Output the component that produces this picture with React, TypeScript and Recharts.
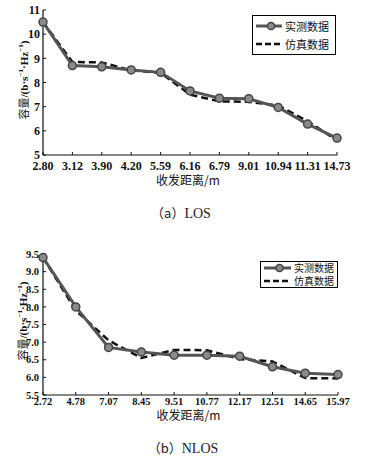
import React from 'react';
import { LineChart, Line, XAxis, YAxis, Legend } from 'recharts';

// ---- (a) LOS ----
const losDistances = ['2.80', '3.12', '3.90', '4.20', '5.59', '6.16', '6.79', '9.01', '10.94', '11.31', '14.73'];
const losMeasured = [10.5, 8.7, 8.65, 8.52, 8.42, 7.65, 7.35, 7.33, 6.97, 6.28, 5.7];
const losSimulated = [10.5, 8.85, 8.83, 8.5, 8.4, 7.5, 7.22, 7.2, 7.05, 6.4, 5.6];
const losYTicks = [5, 6, 7, 8, 9, 10, 11];

// ---- (b) NLOS ----
const nlosDistances = ['2.72', '4.78', '7.07', '8.45', '9.51', '10.77', '12.17', '12.51', '14.65', '15.97'];
const nlosMeasured = [9.4, 8.0, 6.85, 6.72, 6.63, 6.63, 6.6, 6.3, 6.12, 6.08];
const nlosSimulated = [9.4, 7.9, 7.05, 6.55, 6.78, 6.77, 6.52, 6.45, 5.98, 5.97];
const nlosYTicks = [5.5, 6.0, 6.5, 7.0, 7.5, 8.0, 8.5, 9.0, 9.5];

const measuredName = '实测数据';
const simulatedName = '仿真数据';
const xTitle = '收发距离/m';

const SERIF = '"Liberation Serif", "DejaVu Serif", serif';
const CJK = '"Noto Sans CJK SC", sans-serif';

const losData = losDistances.map((d, i) => ({ d, m: losMeasured[i], s: losSimulated[i] }));
const nlosData = nlosDistances.map((d, i) => ({ d, m: nlosMeasured[i], s: nlosSimulated[i] }));

const makeYLabel = (cx: number, cy: number, fs: number) => () => (
  <text
    x={cx}
    y={cy}
    transform={`rotate(-90, ${cx}, ${cy})`}
    textAnchor="middle"
    dominantBaseline="middle"
    fontSize={fs}
    fontFamily={SERIF}
    fontWeight="bold"
    fill="#111"
  >
    <tspan fontFamily={CJK} fontWeight="normal">容量</tspan>
    <tspan>/(b·s</tspan>
    <tspan dy={-4} fontSize={fs * 0.65}>−1</tspan>
    <tspan dy={4}>·Hz</tspan>
    <tspan dy={-4} fontSize={fs * 0.65}>−1</tspan>
    <tspan dy={4}>)</tspan>
  </text>
);

const makeXLabel = (fs: number, dyTop: number) => (props: any) => {
  const vb = props.viewBox || {};
  return (
    <text
      x={vb.x + vb.width / 2 - 2}
      y={vb.y + dyTop}
      textAnchor="middle"
      dominantBaseline="middle"
      fontSize={fs}
      fontFamily={CJK}
      fill="#111"
    >
      {xTitle}
    </text>
  );
};

const makeLegend = (opts: { iconW: number; rowH: number; fs: number; pad: string }) => (props: any) => {
  const payload = (props.payload || []) as any[];
  const order = [measuredName, simulatedName];
  const items = order
    .map((n) => payload.find((p) => p.value === n))
    .filter(Boolean) as any[];
  return (
    <div
      style={{
        border: '1.2px solid #000',
        background: '#fff',
        padding: opts.pad,
        fontFamily: CJK,
        fontSize: opts.fs,
        color: '#111',
        boxSizing: 'border-box',
      }}
    >
      {items.map((it) => (
        <div key={it.value} style={{ display: 'flex', alignItems: 'center', height: opts.rowH }}>
          <svg width={opts.iconW} height={10} style={{ display: 'block' }}>
            {it.value === measuredName ? (
              <>
                <line x1={0} y1={5} x2={opts.iconW} y2={5} stroke="#555" strokeWidth={3} />
                <circle cx={opts.iconW / 2 + 2} cy={5} r={3.6} fill="#8a8a8a" stroke="#444" strokeWidth={1.5} />
              </>
            ) : (
              <line x1={0} y1={5} x2={opts.iconW} y2={5} stroke="#111" strokeWidth={2.5} strokeDasharray="6 3" />
            )}
          </svg>
          <span
            style={{
              marginLeft: 3,
              whiteSpace: 'nowrap',
              display: 'inline-block',
              height: opts.rowH,
              lineHeight: `${opts.rowH}px`,
              overflow: 'visible',
            }}
          >
            {it.value}
          </span>
        </div>
      ))}
    </div>
  );
};

const tickStyleTop = { fontSize: 12, fontFamily: SERIF, fontWeight: 'bold' as const, fill: '#111' };
const tickStyleBottom = { fontSize: 10.5, fontFamily: SERIF, fontWeight: 'bold' as const, fill: '#111' };

export default function App() {
  return (
    <div style={{ position: 'absolute', left: 0, top: 0, width: 370, height: 458, background: '#fff' }}>
      {/* (a) LOS */}
      <div style={{ position: 'absolute', left: 0, top: 0 }}>
        <LineChart width={370} height={200} data={losData} margin={{ top: 10, right: 33, left: 0, bottom: 0 }}>
          <XAxis
            dataKey="d"
            height={45}
            interval={0}
            tick={tickStyleTop}
            tickSize={-3}
            tickMargin={9}
            stroke="#111"
            axisLine={{ stroke: '#111', strokeWidth: 1.2 }}
            tickLine={{ stroke: '#111' }}
            label={{ content: makeXLabel(12, 27) }}
          />
          <XAxis xAxisId="top" dataKey="d" orientation="top" height={0} tick={false} tickSize={-3} axisLine={{ stroke: '#111', strokeWidth: 1.2 }} tickLine={{ stroke: '#111' }} />
          <YAxis
            width={43}
            domain={[5, 11]}
            ticks={losYTicks}
            interval={0}
            tick={tickStyleTop}
            tickSize={-3}
            tickMargin={6}
            axisLine={{ stroke: '#111', strokeWidth: 1.2 }}
            tickLine={{ stroke: '#111' }}
            label={{ content: makeYLabel(25, 80, 11) }}
          />
          <YAxis yAxisId="r" orientation="right" width={0} domain={[5, 11]} ticks={losYTicks} tick={false} tickSize={-3} axisLine={{ stroke: '#111', strokeWidth: 1.2 }} tickLine={{ stroke: '#111' }} />
          <Legend
            verticalAlign="middle"
            align="center"
            wrapperStyle={{ left: 252, top: 15, width: 84 }}
            content={makeLegend({ iconW: 26, rowH: 18, fs: 11, pad: '1px 4px 1px 3px' })}
          />
          <Line name={simulatedName} dataKey="s" stroke="#111" strokeWidth={2.5} strokeDasharray="7 4" dot={false} isAnimationActive={false} />
          <Line
            name={measuredName}
            dataKey="m"
            stroke="#555"
            strokeWidth={3}
            dot={{ r: 4, fill: '#8a8a8a', stroke: '#444', strokeWidth: 1.5 }}
            isAnimationActive={false}
          />
        </LineChart>
      </div>
      <div style={{ position: 'absolute', left: 0, top: 203, width: 362, textAlign: 'center', fontFamily: CJK, fontSize: 13, color: '#222' }}>
        （a）<span style={{ fontFamily: SERIF, fontSize: 14 }}>LOS</span>
      </div>

      {/* (b) NLOS */}
      <div style={{ position: 'absolute', left: 0, top: 230 }}>
        <LineChart width={370} height={200} data={nlosData} margin={{ top: 24, right: 32, left: 0, bottom: 0 }}>
          <XAxis
            dataKey="d"
            height={35}
            interval={0}
            tick={tickStyleBottom}
            tickSize={-3}
            tickMargin={6}
            axisLine={{ stroke: '#111', strokeWidth: 1.2 }}
            tickLine={{ stroke: '#111' }}
            label={{ content: makeXLabel(12, 22) }}
          />
          <XAxis xAxisId="top" dataKey="d" orientation="top" height={0} tick={false} tickSize={-3} axisLine={{ stroke: '#111', strokeWidth: 1.2 }} tickLine={{ stroke: '#111' }} />
          <YAxis
            width={43}
            domain={[5.5, 9.5]}
            ticks={nlosYTicks}
            interval={0}
            tick={tickStyleBottom}
            tickFormatter={(v: number) => v.toFixed(1)}
            tickSize={-3}
            tickMargin={7}
            axisLine={{ stroke: '#111', strokeWidth: 1.2 }}
            tickLine={{ stroke: '#111' }}
            label={{ content: makeYLabel(24, 91, 11) }}
          />
          <YAxis yAxisId="r" orientation="right" width={0} domain={[5.5, 9.5]} ticks={nlosYTicks} tick={false} tickSize={-3} axisLine={{ stroke: '#111', strokeWidth: 1.2 }} tickLine={{ stroke: '#111' }} />
          <Legend
            verticalAlign="middle"
            align="center"
            wrapperStyle={{ left: 260, top: 31, width: 78 }}
            content={makeLegend({ iconW: 27, rowH: 12.5, fs: 10, pad: '0px 2px 0px 3px' })}
          />
          <Line name={simulatedName} dataKey="s" stroke="#111" strokeWidth={2.5} strokeDasharray="7 4" dot={false} isAnimationActive={false} />
          <Line
            name={measuredName}
            dataKey="m"
            stroke="#555"
            strokeWidth={3}
            dot={{ r: 4, fill: '#8a8a8a', stroke: '#444', strokeWidth: 1.5 }}
            isAnimationActive={false}
          />
        </LineChart>
      </div>
      <div style={{ position: 'absolute', left: 0, top: 438, width: 366, textAlign: 'center', fontFamily: CJK, fontSize: 13, color: '#222' }}>
        （b）<span style={{ fontFamily: SERIF, fontSize: 14 }}>NLOS</span>
      </div>
    </div>
  );
}
